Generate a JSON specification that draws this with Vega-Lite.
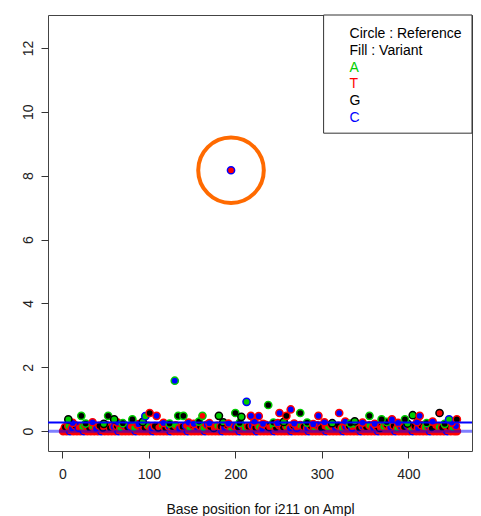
{
  "$schema": "https://vega.github.io/schema/vega-lite/v6.json",
  "width": 424,
  "height": 436,
  "autosize": {"type": "none"},
  "padding": {"left": 48, "top": 15, "right": 9, "bottom": 65},
  "background": "white",
  "config": {
    "view": {"stroke": "#444", "strokeWidth": 1},
    "font": "Liberation Sans",
    "axis": {"grid": false, "domain": false, "tickColor": "#333", "tickSize": 7, "tickWidth": 1, "labelColor": "#222", "labelFont": "Liberation Sans", "labelFontSize": 14, "titleFont": "Liberation Sans", "titleFontSize": 14, "titleFontWeight": "normal", "titleColor": "#111"},
    "axisX": {"tickCount": 5, "labelPadding": 9, "titlePadding": 21},
    "axisY": {"tickCount": 7, "labelAngle": 270, "labelAlign": "center", "labelBaseline": "alphabetic", "labelPadding": 9}
  },
  "datasets": {
    "pts": [
      {"x":1,"y":0,"r":"T","v":"T"},{"x":5,"y":0,"r":"T","v":"T"},{"x":9,"y":0,"r":"C","v":"T"},{"x":13,"y":0,"r":"T","v":"T"},{"x":17,"y":0,"r":"T","v":"T"},{"x":21,"y":0,"r":"T","v":"T"},{"x":25,"y":0,"r":"C","v":"T"},{"x":29,"y":0,"r":"T","v":"T"},{"x":33,"y":0,"r":"T","v":"T"},{"x":37,"y":0,"r":"T","v":"T"},{"x":41,"y":0,"r":"T","v":"T"},{"x":45,"y":0,"r":"C","v":"T"},{"x":49,"y":0,"r":"T","v":"T"},{"x":53,"y":0,"r":"T","v":"T"},{"x":57,"y":0,"r":"T","v":"T"},{"x":61,"y":0,"r":"T","v":"T"},{"x":65,"y":0,"r":"C","v":"T"},{"x":69,"y":0,"r":"T","v":"T"},{"x":73,"y":0,"r":"T","v":"T"},{"x":77,"y":0,"r":"T","v":"T"},{"x":81,"y":0,"r":"T","v":"T"},{"x":85,"y":0,"r":"C","v":"T"},{"x":89,"y":0,"r":"T","v":"T"},{"x":93,"y":0,"r":"T","v":"T"},{"x":97,"y":0,"r":"T","v":"T"},{"x":101,"y":0,"r":"T","v":"T"},{"x":105,"y":0,"r":"C","v":"T"},{"x":109,"y":0,"r":"T","v":"T"},{"x":113,"y":0,"r":"T","v":"T"},{"x":117,"y":0,"r":"T","v":"T"},{"x":121,"y":0,"r":"T","v":"T"},{"x":125,"y":0,"r":"C","v":"T"},{"x":129,"y":0,"r":"T","v":"T"},{"x":133,"y":0,"r":"T","v":"T"},{"x":137,"y":0,"r":"T","v":"T"},{"x":141,"y":0,"r":"T","v":"T"},{"x":145,"y":0,"r":"C","v":"T"},{"x":149,"y":0,"r":"T","v":"T"},{"x":153,"y":0,"r":"T","v":"T"},{"x":157,"y":0,"r":"T","v":"T"},{"x":161,"y":0,"r":"T","v":"T"},{"x":165,"y":0,"r":"C","v":"T"},{"x":169,"y":0,"r":"T","v":"T"},{"x":173,"y":0,"r":"T","v":"T"},{"x":177,"y":0,"r":"T","v":"T"},{"x":181,"y":0,"r":"T","v":"T"},{"x":185,"y":0,"r":"C","v":"T"},{"x":189,"y":0,"r":"T","v":"T"},{"x":193,"y":0,"r":"T","v":"T"},{"x":197,"y":0,"r":"T","v":"T"},{"x":201,"y":0,"r":"T","v":"T"},{"x":205,"y":0,"r":"C","v":"T"},{"x":209,"y":0,"r":"T","v":"T"},{"x":213,"y":0,"r":"T","v":"T"},{"x":217,"y":0,"r":"T","v":"T"},{"x":221,"y":0,"r":"T","v":"T"},{"x":225,"y":0,"r":"C","v":"T"},{"x":229,"y":0,"r":"T","v":"T"},{"x":233,"y":0,"r":"T","v":"T"},{"x":237,"y":0,"r":"T","v":"T"},{"x":241,"y":0,"r":"T","v":"T"},{"x":245,"y":0,"r":"C","v":"T"},{"x":249,"y":0,"r":"T","v":"T"},{"x":253,"y":0,"r":"T","v":"T"},{"x":257,"y":0,"r":"T","v":"T"},{"x":261,"y":0,"r":"T","v":"T"},{"x":265,"y":0,"r":"C","v":"T"},{"x":269,"y":0,"r":"T","v":"T"},{"x":273,"y":0,"r":"T","v":"T"},{"x":277,"y":0,"r":"T","v":"T"},{"x":281,"y":0,"r":"T","v":"T"},{"x":285,"y":0,"r":"C","v":"T"},{"x":289,"y":0,"r":"T","v":"T"},{"x":293,"y":0,"r":"T","v":"T"},{"x":297,"y":0,"r":"T","v":"T"},{"x":301,"y":0,"r":"T","v":"T"},{"x":305,"y":0,"r":"C","v":"T"},{"x":309,"y":0,"r":"T","v":"T"},{"x":313,"y":0,"r":"T","v":"T"},{"x":317,"y":0,"r":"T","v":"T"},{"x":321,"y":0,"r":"T","v":"T"},{"x":325,"y":0,"r":"C","v":"T"},{"x":329,"y":0,"r":"T","v":"T"},{"x":333,"y":0,"r":"T","v":"T"},{"x":337,"y":0,"r":"T","v":"T"},{"x":341,"y":0,"r":"T","v":"T"},{"x":345,"y":0,"r":"C","v":"T"},{"x":349,"y":0,"r":"T","v":"T"},{"x":353,"y":0,"r":"T","v":"T"},{"x":357,"y":0,"r":"T","v":"T"},{"x":361,"y":0,"r":"T","v":"T"},{"x":365,"y":0,"r":"C","v":"T"},{"x":369,"y":0,"r":"T","v":"T"},{"x":373,"y":0,"r":"T","v":"T"},{"x":377,"y":0,"r":"T","v":"T"},{"x":381,"y":0,"r":"T","v":"T"},{"x":385,"y":0,"r":"C","v":"T"},{"x":389,"y":0,"r":"T","v":"T"},{"x":393,"y":0,"r":"T","v":"T"},{"x":397,"y":0,"r":"T","v":"T"},{"x":401,"y":0,"r":"T","v":"T"},{"x":405,"y":0,"r":"C","v":"T"},{"x":409,"y":0,"r":"T","v":"T"},{"x":413,"y":0,"r":"T","v":"T"},{"x":417,"y":0,"r":"T","v":"T"},{"x":421,"y":0,"r":"T","v":"T"},{"x":425,"y":0,"r":"C","v":"T"},{"x":429,"y":0,"r":"T","v":"T"},{"x":433,"y":0,"r":"T","v":"T"},{"x":437,"y":0,"r":"T","v":"T"},{"x":441,"y":0,"r":"T","v":"T"},{"x":445,"y":0,"r":"C","v":"T"},{"x":449,"y":0,"r":"T","v":"T"},{"x":453,"y":0,"r":"T","v":"T"},{"x":456,"y":0,"r":"T","v":"T"},
      {"x":3,"y":0.12,"r":"T","v":"G"},{"x":7,"y":0.16,"r":"T","v":"A"},{"x":11,"y":0.09,"r":"T","v":"C"},{"x":15,"y":0.18,"r":"T","v":"G"},{"x":19,"y":0.11,"r":"C","v":"T"},{"x":23,"y":0.14,"r":"T","v":"A"},{"x":27,"y":0.2,"r":"T","v":"C"},{"x":31,"y":0.1,"r":"T","v":"G"},{"x":35,"y":0.15,"r":"T","v":"A"},{"x":39,"y":0.08,"r":"T","v":"C"},{"x":43,"y":0.17,"r":"T","v":"G"},{"x":47,"y":0.12,"r":"G","v":"T"},{"x":51,"y":0.19,"r":"T","v":"A"},{"x":55,"y":0.1,"r":"T","v":"G"},{"x":59,"y":0.14,"r":"T","v":"C"},{"x":63,"y":0.16,"r":"T","v":"G"},{"x":67,"y":0.09,"r":"T","v":"A"},{"x":71,"y":0.18,"r":"T","v":"C"},{"x":75,"y":0.12,"r":"T","v":"G"},{"x":79,"y":0.15,"r":"C","v":"T"},{"x":83,"y":0.1,"r":"T","v":"A"},{"x":87,"y":0.2,"r":"T","v":"G"},{"x":91,"y":0.13,"r":"T","v":"C"},{"x":95,"y":0.11,"r":"T","v":"G"},{"x":99,"y":0.17,"r":"T","v":"A"},{"x":103,"y":0.09,"r":"T","v":"C"},{"x":107,"y":0.16,"r":"T","v":"G"},{"x":111,"y":0.12,"r":"G","v":"T"},{"x":115,"y":0.19,"r":"T","v":"A"},{"x":119,"y":0.1,"r":"T","v":"G"},{"x":123,"y":0.15,"r":"T","v":"C"},{"x":127,"y":0.13,"r":"T","v":"G"},{"x":131,"y":0.18,"r":"T","v":"A"},{"x":135,"y":0.08,"r":"T","v":"C"},{"x":139,"y":0.14,"r":"T","v":"G"},{"x":143,"y":0.17,"r":"C","v":"T"},{"x":147,"y":0.11,"r":"T","v":"A"},{"x":151,"y":0.19,"r":"T","v":"G"},{"x":155,"y":0.12,"r":"T","v":"C"},{"x":159,"y":0.16,"r":"T","v":"G"},{"x":163,"y":0.09,"r":"T","v":"A"},{"x":167,"y":0.2,"r":"T","v":"C"},{"x":171,"y":0.13,"r":"T","v":"G"},{"x":175,"y":0.1,"r":"G","v":"T"},{"x":179,"y":0.17,"r":"T","v":"A"},{"x":183,"y":0.15,"r":"T","v":"G"},{"x":187,"y":0.11,"r":"T","v":"C"},{"x":191,"y":0.18,"r":"T","v":"G"},{"x":195,"y":0.09,"r":"T","v":"A"},{"x":199,"y":0.16,"r":"T","v":"C"},{"x":203,"y":0.12,"r":"T","v":"G"},{"x":207,"y":0.19,"r":"C","v":"T"},{"x":211,"y":0.1,"r":"T","v":"A"},{"x":215,"y":0.14,"r":"T","v":"G"},{"x":219,"y":0.17,"r":"T","v":"C"},{"x":223,"y":0.11,"r":"T","v":"G"},{"x":227,"y":0.15,"r":"T","v":"A"},{"x":231,"y":0.08,"r":"T","v":"C"},{"x":235,"y":0.2,"r":"T","v":"G"},{"x":239,"y":0.13,"r":"G","v":"T"},{"x":243,"y":0.16,"r":"T","v":"A"},{"x":247,"y":0.1,"r":"T","v":"G"},{"x":251,"y":0.18,"r":"T","v":"C"},{"x":255,"y":0.12,"r":"T","v":"G"},{"x":259,"y":0.15,"r":"T","v":"A"},{"x":263,"y":0.09,"r":"T","v":"C"},{"x":267,"y":0.17,"r":"T","v":"G"},{"x":271,"y":0.11,"r":"C","v":"T"},{"x":275,"y":0.19,"r":"T","v":"A"},{"x":279,"y":0.14,"r":"T","v":"G"},{"x":283,"y":0.1,"r":"T","v":"C"},{"x":287,"y":0.16,"r":"T","v":"G"},{"x":291,"y":0.12,"r":"T","v":"A"},{"x":295,"y":0.18,"r":"T","v":"C"},{"x":299,"y":0.09,"r":"T","v":"G"},{"x":303,"y":0.15,"r":"G","v":"T"},{"x":307,"y":0.13,"r":"T","v":"A"},{"x":311,"y":0.2,"r":"T","v":"G"},{"x":315,"y":0.11,"r":"T","v":"C"},{"x":319,"y":0.17,"r":"T","v":"G"},{"x":323,"y":0.1,"r":"T","v":"A"},{"x":327,"y":0.14,"r":"T","v":"C"},{"x":331,"y":0.16,"r":"T","v":"G"},{"x":335,"y":0.12,"r":"C","v":"T"},{"x":339,"y":0.19,"r":"T","v":"A"},{"x":343,"y":0.09,"r":"T","v":"G"},{"x":347,"y":0.15,"r":"T","v":"C"},{"x":351,"y":0.13,"r":"T","v":"G"},{"x":355,"y":0.18,"r":"T","v":"A"},{"x":359,"y":0.11,"r":"T","v":"C"},{"x":363,"y":0.16,"r":"T","v":"G"},{"x":367,"y":0.1,"r":"G","v":"T"},{"x":371,"y":0.14,"r":"T","v":"A"},{"x":375,"y":0.2,"r":"T","v":"G"},{"x":379,"y":0.12,"r":"T","v":"C"},{"x":383,"y":0.17,"r":"T","v":"G"},{"x":387,"y":0.09,"r":"T","v":"A"},{"x":391,"y":0.15,"r":"T","v":"C"},{"x":395,"y":0.13,"r":"T","v":"G"},{"x":399,"y":0.18,"r":"C","v":"T"},{"x":403,"y":0.11,"r":"T","v":"A"},{"x":407,"y":0.16,"r":"T","v":"G"},{"x":411,"y":0.1,"r":"T","v":"C"},{"x":415,"y":0.19,"r":"T","v":"G"},{"x":419,"y":0.12,"r":"T","v":"A"},{"x":423,"y":0.15,"r":"T","v":"C"},{"x":427,"y":0.09,"r":"T","v":"G"},{"x":431,"y":0.17,"r":"G","v":"T"},{"x":435,"y":0.13,"r":"T","v":"A"},{"x":439,"y":0.11,"r":"T","v":"G"},{"x":443,"y":0.18,"r":"T","v":"C"},{"x":447,"y":0.14,"r":"T","v":"G"},{"x":451,"y":0.1,"r":"T","v":"A"},{"x":455,"y":0.16,"r":"T","v":"C"},
      {"x":12,"y":0.26,"r":"T","v":"C"},{"x":27,"y":0.24,"r":"A","v":"G"},{"x":35,"y":0.28,"r":"T","v":"C"},{"x":48,"y":0.23,"r":"G","v":"A"},{"x":64,"y":0.27,"r":"T","v":"C"},{"x":70,"y":0.25,"r":"A","v":"G"},{"x":88,"y":0.22,"r":"T","v":"C"},{"x":93,"y":0.29,"r":"G","v":"A"},{"x":117,"y":0.26,"r":"T","v":"C"},{"x":124,"y":0.24,"r":"A","v":"G"},{"x":146,"y":0.27,"r":"T","v":"C"},{"x":152,"y":0.23,"r":"T","v":"C"},{"x":158,"y":0.3,"r":"A","v":"G"},{"x":170,"y":0.25,"r":"T","v":"C"},{"x":186,"y":0.28,"r":"G","v":"A"},{"x":192,"y":0.24,"r":"T","v":"C"},{"x":205,"y":0.26,"r":"A","v":"G"},{"x":222,"y":0.3,"r":"T","v":"C"},{"x":232,"y":0.23,"r":"T","v":"C"},{"x":244,"y":0.27,"r":"A","v":"G"},{"x":249,"y":0.25,"r":"T","v":"C"},{"x":256,"y":0.29,"r":"G","v":"A"},{"x":268,"y":0.24,"r":"T","v":"C"},{"x":283,"y":0.27,"r":"A","v":"G"},{"x":290,"y":0.22,"r":"T","v":"C"},{"x":303,"y":0.28,"r":"T","v":"C"},{"x":312,"y":0.25,"r":"G","v":"A"},{"x":327,"y":0.3,"r":"T","v":"C"},{"x":333,"y":0.24,"r":"A","v":"G"},{"x":347,"y":0.27,"r":"T","v":"C"},{"x":361,"y":0.23,"r":"T","v":"C"},{"x":375,"y":0.29,"r":"A","v":"G"},{"x":388,"y":0.26,"r":"T","v":"C"},{"x":399,"y":0.24,"r":"G","v":"A"},{"x":410,"y":0.28,"r":"T","v":"C"},{"x":421,"y":0.25,"r":"A","v":"G"},{"x":428,"y":0.3,"r":"T","v":"C"},{"x":442,"y":0.23,"r":"A","v":"G"},{"x":450,"y":0.27,"r":"T","v":"C"},
      {"x":7,"y":0.37,"r":"G","v":"A"},{"x":22,"y":0.48,"r":"A","v":"G"},{"x":53,"y":0.48,"r":"A","v":"G"},{"x":60,"y":0.37,"r":"G","v":"A"},{"x":81,"y":0.37,"r":"A","v":"G"},{"x":96,"y":0.47,"r":"C","v":"A"},{"x":101,"y":0.57,"r":"T","v":"G"},{"x":109,"y":0.48,"r":"T","v":"C"},{"x":130,"y":1.58,"r":"A","v":"C"},{"x":134,"y":0.48,"r":"A","v":"G"},{"x":140,"y":0.48,"r":"A","v":"G"},{"x":162,"y":0.48,"r":"A","v":"T"},{"x":181,"y":0.48,"r":"G","v":"A"},{"x":195,"y":8.17,"r":"C","v":"T"},{"x":200,"y":0.57,"r":"A","v":"G"},{"x":207,"y":0.45,"r":"G","v":"A"},{"x":213,"y":0.92,"r":"C","v":"A"},{"x":218,"y":0.48,"r":"T","v":"C"},{"x":227,"y":0.47,"r":"T","v":"C"},{"x":238,"y":0.82,"r":"A","v":"G"},{"x":251,"y":0.57,"r":"T","v":"C"},{"x":259,"y":0.48,"r":"T","v":"G"},{"x":264,"y":0.68,"r":"T","v":"C"},{"x":275,"y":0.57,"r":"A","v":"G"},{"x":296,"y":0.48,"r":"T","v":"C"},{"x":320,"y":0.57,"r":"T","v":"C"},{"x":338,"y":0.31,"r":"G","v":"A"},{"x":355,"y":0.48,"r":"A","v":"G"},{"x":369,"y":0.37,"r":"A","v":"G"},{"x":381,"y":0.37,"r":"T","v":"C"},{"x":396,"y":0.37,"r":"A","v":"G"},{"x":405,"y":0.5,"r":"G","v":"A"},{"x":413,"y":0.48,"r":"T","v":"C"},{"x":436,"y":0.57,"r":"G","v":"T"},{"x":447,"y":0.37,"r":"C","v":"A"},{"x":456,"y":0.37,"r":"T","v":"G"}
    ],
    "one": [{}]
  },
  "layer": [
    {
      "data": {"name": "one"},
      "mark": {"type": "rect", "fill": "white", "stroke": "#333", "strokeWidth": 1},
      "encoding": {
        "x": {"datum": 302, "type": "quantitative", "scale": {"domain": [-16.5, 473.5], "nice": false, "zero": false}, "axis": {"title": "Base position for i211 on Ampl"}},
        "x2": {"datum": 473.5},
        "y": {"datum": 13.03, "type": "quantitative", "scale": {"domain": [-0.62, 13.03], "nice": false, "zero": false}, "axis": {"title": null}},
        "y2": {"datum": 9.33}
      }
    },
    {
      "data": {"name": "pts"},
      "mark": {"type": "point", "shape": "circle", "filled": true, "size": 52, "strokeWidth": 1.5, "opacity": 1, "fillOpacity": 1, "strokeOpacity": 1},
      "encoding": {
        "x": {"field": "x", "type": "quantitative", "scale": {"domain": [-16.5, 473.5], "nice": false, "zero": false}, "axis": {"title": "Base position for i211 on Ampl"}},
        "y": {"field": "y", "type": "quantitative", "scale": {"domain": [-0.62, 13.03], "nice": false, "zero": false}, "axis": {"title": null}},
        "fill": {"field": "v", "type": "nominal", "scale": {"domain": ["A", "T", "G", "C"], "range": ["#00CD00", "#FF0000", "#000000", "#0000FF"]}, "legend": null},
        "stroke": {"field": "r", "type": "nominal", "scale": {"domain": ["A", "T", "G", "C"], "range": ["#00CD00", "#FF0000", "#000000", "#0000FF"]}, "legend": null}
      }
    },
    {
      "data": {"name": "pts"},
      "transform": [{"filter": "datum.y > 5"}],
      "mark": {"type": "point", "shape": "circle", "filled": false, "size": 4300, "stroke": "#FF6A00", "strokeWidth": 4, "opacity": 1},
      "encoding": {
        "x": {"field": "x", "type": "quantitative", "scale": {"domain": [-16.5, 473.5], "nice": false, "zero": false}, "axis": {"title": "Base position for i211 on Ampl"}},
        "y": {"field": "y", "type": "quantitative", "scale": {"domain": [-0.62, 13.03], "nice": false, "zero": false}, "axis": {"title": null}}
      }
    },
    {
      "data": {"name": "one"},
      "mark": {"type": "rule", "color": "#0000FF", "strokeWidth": 3, "opacity": 0.5},
      "encoding": {
        "y": {"datum": 0, "type": "quantitative", "scale": {"domain": [-0.62, 13.03], "nice": false, "zero": false}, "axis": {"title": null}}
      }
    },
    {
      "data": {"name": "one"},
      "mark": {"type": "rule", "color": "#0000FF", "strokeWidth": 2},
      "encoding": {
        "y": {"datum": 0.27, "type": "quantitative", "scale": {"domain": [-0.62, 13.03], "nice": false, "zero": false}, "axis": {"title": null}}
      }
    },
    {
      "data": {"name": "one"},
      "mark": {"type": "text", "text": ["Circle : Reference", "Fill : Variant"], "lineHeight": 16.7, "align": "left", "baseline": "alphabetic", "font": "Liberation Sans", "fontSize": 14, "color": "#000000"},
      "encoding": {
        "x": {"datum": 332, "type": "quantitative", "scale": {"domain": [-16.5, 473.5], "nice": false, "zero": false}, "axis": {"title": "Base position for i211 on Ampl"}},
        "y": {"datum": 12.3, "type": "quantitative", "scale": {"domain": [-0.62, 13.03], "nice": false, "zero": false}, "axis": {"title": null}}
      }
    },
    {
      "data": {"name": "one"},
      "mark": {"type": "text", "text": "A", "align": "left", "baseline": "alphabetic", "font": "Liberation Sans", "fontSize": 14, "color": "#00CD00"},
      "encoding": {
        "x": {"datum": 332, "type": "quantitative", "scale": {"domain": [-16.5, 473.5], "nice": false, "zero": false}, "axis": {"title": "Base position for i211 on Ampl"}},
        "y": {"datum": 11.235, "type": "quantitative", "scale": {"domain": [-0.62, 13.03], "nice": false, "zero": false}, "axis": {"title": null}}
      }
    },
    {
      "data": {"name": "one"},
      "mark": {"type": "text", "text": "T", "align": "left", "baseline": "alphabetic", "font": "Liberation Sans", "fontSize": 14, "color": "#FF0000"},
      "encoding": {
        "x": {"datum": 332, "type": "quantitative", "scale": {"domain": [-16.5, 473.5], "nice": false, "zero": false}, "axis": {"title": "Base position for i211 on Ampl"}},
        "y": {"datum": 10.73, "type": "quantitative", "scale": {"domain": [-0.62, 13.03], "nice": false, "zero": false}, "axis": {"title": null}}
      }
    },
    {
      "data": {"name": "one"},
      "mark": {"type": "text", "text": "G", "align": "left", "baseline": "alphabetic", "font": "Liberation Sans", "fontSize": 14, "color": "#000000"},
      "encoding": {
        "x": {"datum": 332, "type": "quantitative", "scale": {"domain": [-16.5, 473.5], "nice": false, "zero": false}, "axis": {"title": "Base position for i211 on Ampl"}},
        "y": {"datum": 10.21, "type": "quantitative", "scale": {"domain": [-0.62, 13.03], "nice": false, "zero": false}, "axis": {"title": null}}
      }
    },
    {
      "data": {"name": "one"},
      "mark": {"type": "text", "text": "C", "align": "left", "baseline": "alphabetic", "font": "Liberation Sans", "fontSize": 14, "color": "#0000FF"},
      "encoding": {
        "x": {"datum": 332, "type": "quantitative", "scale": {"domain": [-16.5, 473.5], "nice": false, "zero": false}, "axis": {"title": "Base position for i211 on Ampl"}},
        "y": {"datum": 9.69, "type": "quantitative", "scale": {"domain": [-0.62, 13.03], "nice": false, "zero": false}, "axis": {"title": null}}
      }
    }
  ]
}
